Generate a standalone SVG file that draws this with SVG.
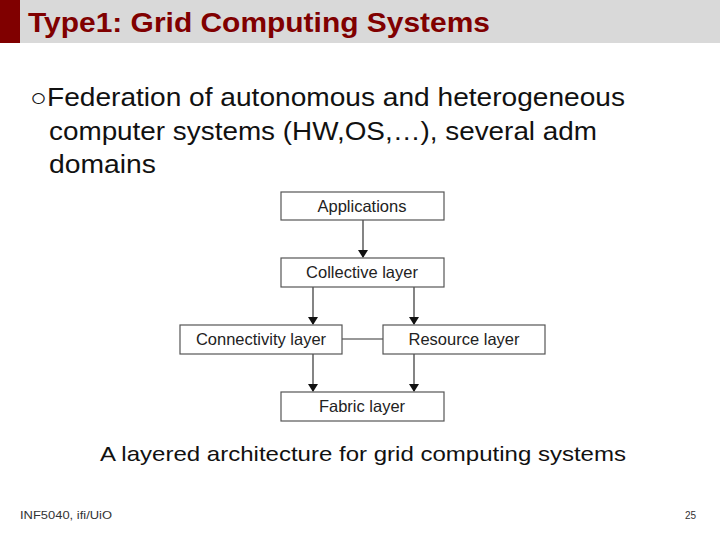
<svg xmlns="http://www.w3.org/2000/svg" width="720" height="540" viewBox="0 0 720 540">
<style>
.b{fill:#fff;stroke:#555;stroke-width:1.2}
.t{font-family:"Liberation Sans",Arial,sans-serif;font-size:16.5px;fill:#222;text-anchor:middle}
.c{stroke:#333;stroke-width:1.2;fill:none}
</style>
<defs><marker id="a" markerWidth="8" markerHeight="10" refX="7" refY="5" orient="auto" markerUnits="userSpaceOnUse"><path d="M0,0L8,5L0,10z" fill="#111"/></marker></defs>
<rect width="720" height="540" fill="#fff"/>
<rect x="0" y="0" width="720" height="43" fill="#d9d9d9"/>
<rect x="0" y="0" width="20" height="43" fill="#800000"/>
<text x="28" y="32" font-family="Liberation Sans,Arial,sans-serif" font-size="28" font-weight="bold" fill="#800000" textLength="462" lengthAdjust="spacingAndGlyphs">Type1: Grid Computing Systems</text>
<text x="30" y="106" font-family="Liberation Sans,Arial,sans-serif" font-size="25" fill="#111" textLength="595" lengthAdjust="spacingAndGlyphs">○Federation of autonomous and heterogeneous</text>
<text x="49" y="140" font-family="Liberation Sans,Arial,sans-serif" font-size="25" fill="#111" textLength="548" lengthAdjust="spacingAndGlyphs">computer systems (HW,OS,…), several adm</text>
<text x="49" y="173" font-family="Liberation Sans,Arial,sans-serif" font-size="25" fill="#111" textLength="107" lengthAdjust="spacingAndGlyphs">domains</text>
<g id="connectors">
<line class="c" x1="363" y1="220" x2="363" y2="257" marker-end="url(#a)"/>
<line class="c" x1="313" y1="287" x2="313" y2="324" marker-end="url(#a)"/>
<line class="c" x1="414" y1="287" x2="414" y2="324" marker-end="url(#a)"/>
<line class="c" x1="313" y1="354" x2="313" y2="391" marker-end="url(#a)"/>
<line class="c" x1="414" y1="354" x2="414" y2="391" marker-end="url(#a)"/>
<line class="c" x1="342" y1="339" x2="383" y2="339" stroke="#777"/>
</g>
<g id="applications"><rect class="b" x="281" y="192" width="163" height="28"/><text class="t" x="362" y="212">Applications</text></g>
<g id="collective"><rect class="b" x="281" y="258" width="163" height="29"/><text class="t" x="362" y="278">Collective layer</text></g>
<g id="connectivity"><rect class="b" x="180" y="325" width="162" height="29"/><text class="t" x="261" y="345">Connectivity layer</text></g>
<g id="resource"><rect class="b" x="383" y="325" width="162" height="29"/><text class="t" x="464" y="345">Resource layer</text></g>
<g id="fabric"><rect class="b" x="281" y="392" width="163" height="29"/><text class="t" x="362" y="412">Fabric layer</text></g>
<text x="100" y="461" font-family="Liberation Sans,Arial,sans-serif" font-size="21" fill="#111" textLength="526" lengthAdjust="spacingAndGlyphs">A layered architecture for grid computing systems</text>
<text x="20" y="519" font-family="Liberation Sans,Arial,sans-serif" font-size="10" fill="#333" textLength="92" lengthAdjust="spacingAndGlyphs">INF5040, ifi/UiO</text>
<text x="696" y="519" font-family="Liberation Sans,Arial,sans-serif" font-size="10" fill="#333" text-anchor="end">25</text>
</svg>
